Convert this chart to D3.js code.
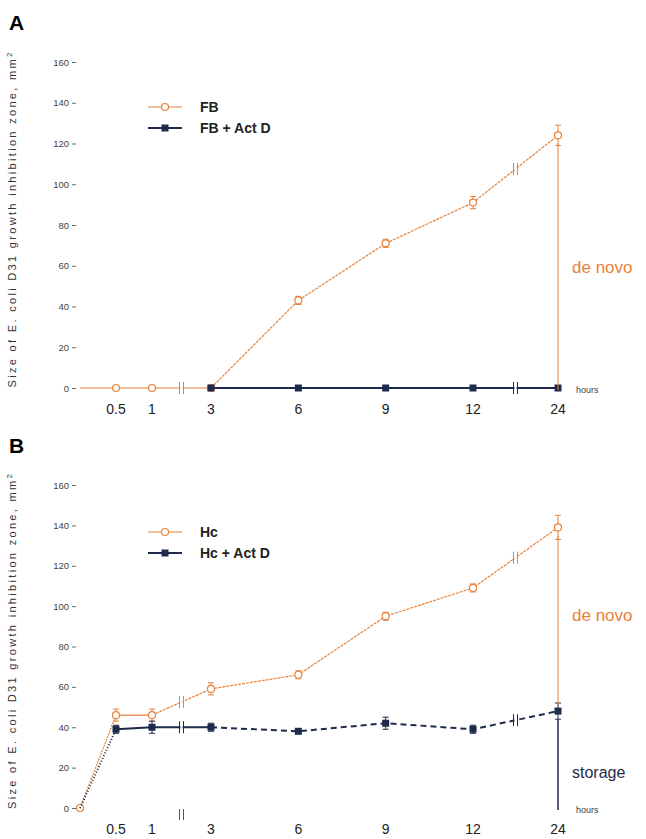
<!DOCTYPE html>
<html>
<head>
<meta charset="utf-8">
<script src="https://cdn.jsdelivr.net/npm/d3@7"></script>
<style>
  body { margin: 0; background: #fff; }
  svg { font-family: "Liberation Sans", Arial, sans-serif; }
</style>
</head>
<body>
<svg id="chart" width="646" height="839"></svg>
<script>
// hours sampled
const hours = [0, 0.5, 1, 3, 6, 9, 12, 24];
const xTickHours = [0.5, 1, 3, 6, 9, 12, 24];
const xTickLabels = ["0.5", "1", "3", "6", "9", "12", "24"];
const yTicks = [0, 20, 40, 60, 80, 100, 120, 140, 160];

// panel A
const fb = [0, 0, 0, 0, 43, 71, 91, 124];
const fbErr = [0, 0, 0, 0, 2, 2, 3, 5];
const fbActD = [null, null, null, 0, 0, 0, 0, 0];

// panel B
const hc = [0, 46, 46, 59, 66, 95, 109, 139];
const hcErr = [0, 3, 3, 3, 2, 2, 2, 6];
const hcActD = [0, 39, 40, 40, 38, 42, 39, 48];
const hcActDErr = [0, 2, 3, 2, 1, 3, 2, 4];

const orange = "#e8823a";
const navy = "#1f2b4c";

const svg = d3.select("#chart");

// broken time axis: 0-1 h, 3-12 h, 24 h
const x = d3.scaleLinear().domain([0, 1, 3, 12, 24]).range([80, 152, 211, 473, 558]);
const breaks = [2, 18];

function drawPanel(cfg) {
    const y = d3.scaleLinear().domain([0, 160]).range([cfg.bottom, cfg.top]);
    const g = svg.append("g");

    g.append("text")
        .attr("x", 9).attr("y", cfg.top - 32)
        .style("font-size", "21px").style("font-weight", "bold")
        .text(cfg.letter);

    // y axis
    const yAxis = g.append("g")
        .attr("transform", "translate(76,0)")
        .call(d3.axisLeft(y).tickValues(yTicks).tickSize(4).tickPadding(3));
    yAxis.select(".domain").remove();
    yAxis.selectAll("text").style("font-size", "9.5px").style("fill", "#444");
    yAxis.selectAll("line").attr("stroke", "#666");

    const title = g.append("text")
        .attr("transform", `translate(16,${(cfg.top + cfg.bottom) / 2 - 5}) rotate(-90)`)
        .attr("text-anchor", "middle")
        .attr("textLength", 335).attr("lengthAdjust", "spacing")
        .style("font-size", "11px").style("fill", "#333");
    title.append("tspan").text("Size of E. coli D31 growth inhibition zone, mm");
    title.append("tspan").attr("dy", -4).style("font-size", "8px").text("2");

    // x tick labels
    g.selectAll(".xl")
        .data(xTickHours)
        .enter().append("text")
        .attr("x", d => x(d))
        .attr("y", cfg.bottom + 26)
        .attr("text-anchor", "middle")
        .style("font-size", "14px").style("fill", "#222")
        .text((d, i) => xTickLabels[i]);

    g.append("text")
        .attr("x", 576).attr("y", cfg.bottom + 5)
        .style("font-size", "9px").style("fill", "#444")
        .text("hours");

    // series
    cfg.series.forEach(s => {
        const pts = hours.map((h, i) => ({ h, v: s.values[i], e: s.err ? s.err[i] : 0 }))
            .filter(d => d.v !== null);
        s.segments.forEach(seg => {
            const segPts = pts.filter(d => d.h >= seg[0] && d.h <= seg[1]);
            g.append("path")
                .datum(segPts)
                .attr("fill", "none")
                .attr("stroke", s.color)
                .attr("stroke-width", s.width)
                .attr("stroke-dasharray", seg[2])
                .attr("d", d3.line().x(d => x(d.h)).y(d => y(d.v)));
        });

        // break marks on the line
        breaks.forEach(b => {
            const i = pts.findIndex(d => d.h > b);
            if (i <= 0) return;
            const a = pts[i - 1], c = pts[i];
            const v = a.v + (c.v - a.v) * (x(b) - x(a.h)) / (x(c.h) - x(a.h));
            [-2, 2].forEach(off => {
                g.append("line")
                    .attr("x1", x(b) + off).attr("x2", x(b) + off)
                    .attr("y1", y(v) - 6).attr("y2", y(v) + 6)
                    .attr("stroke", s.color).attr("stroke-width", 1);
            });
            g.append("line")
                .attr("x1", x(b) - 1).attr("x2", x(b) + 1)
                .attr("y1", y(v)).attr("y2", y(v))
                .attr("stroke", "#fff").attr("stroke-width", 3);
        });

        // error bars
        pts.filter(d => d.e > 0).forEach(d => {
            g.append("path")
                .attr("d", `M${x(d.h) - 3},${y(d.v + d.e)}H${x(d.h) + 3}M${x(d.h)},${y(d.v + d.e)}V${y(d.v - d.e)}M${x(d.h) - 3},${y(d.v - d.e)}H${x(d.h) + 3}`)
                .attr("stroke", s.color).attr("stroke-width", 1).attr("fill", "none");
        });

        // markers
        pts.filter(d => !(s.skipZero && d.h === 0)).forEach(d => {
            if (s.marker === "circle") {
                g.append("circle")
                    .attr("cx", x(d.h)).attr("cy", y(d.v)).attr("r", 3.5)
                    .attr("fill", "#fff").attr("stroke", s.color).attr("stroke-width", 1.2);
            } else {
                g.append("rect")
                    .attr("x", x(d.h) - 3.5).attr("y", y(d.v) - 3.5)
                    .attr("width", 7).attr("height", 7)
                    .attr("fill", s.color);
            }
        });
    });

    // axis break marks in panel B
    if (cfg.axisBreaks) {
        breaks.slice(0, 1).forEach(b => {
            [-2, 2].forEach(off => {
                g.append("line")
                    .attr("x1", x(b) + off).attr("x2", x(b) + off)
                    .attr("y1", cfg.bottom + 1).attr("y2", cfg.bottom + 12)
                    .attr("stroke", "#555").attr("stroke-width", 1);
            });
        });
    }

    // brackets at 24 h
    cfg.brackets.forEach(br => {
        g.append("line")
            .attr("x1", x(24)).attr("x2", x(24))
            .attr("y1", y(br.from) + 8).attr("y2", y(br.to) - (br.to > 0 ? 6 : -2))
            .attr("stroke", br.color).attr("stroke-width", br.width);
        g.append("text")
            .attr("x", 572).attr("y", br.labelY)
            .style("font-size", br.size).style("fill", br.color)
            .text(br.label);
    });

    // legend
    cfg.series.forEach((s, i) => {
        const ly = cfg.legendY + i * 21;
        g.append("line")
            .attr("x1", 148).attr("x2", 182).attr("y1", ly).attr("y2", ly)
            .attr("stroke", s.color).attr("stroke-width", s.width);
        if (s.marker === "circle") {
            g.append("circle").attr("cx", 165).attr("cy", ly).attr("r", 3.5)
                .attr("fill", "#fff").attr("stroke", s.color).attr("stroke-width", 1.2);
        } else {
            g.append("rect").attr("x", 161.5).attr("y", ly - 3.5).attr("width", 7).attr("height", 7)
                .attr("fill", s.color);
        }
        g.append("text")
            .attr("x", 200).attr("y", ly + 5)
            .style("font-size", "14px").style("font-weight", "bold").style("fill", "#222")
            .text(s.name);
    });
}

drawPanel({
    letter: "A", top: 62, bottom: 388, legendY: 107, axisBreaks: false,
    series: [
        { name: "FB + Act D", values: fbActD, color: navy, width: 2, marker: "rect", segments: [[3, 24, null]] },
        { name: "FB", values: fb, err: fbErr, color: orange, width: 1.2, marker: "circle",
          segments: [[0, 3, null], [3, 24, "3,1"]], skipZero: true }
    ].reverse(),
    brackets: [{ from: 124, to: 0, color: orange, width: 1, label: "de novo", labelY: 273, size: "17px" }]
});

drawPanel({
    letter: "B", top: 485, bottom: 808, legendY: 532, axisBreaks: true,
    series: [
        { name: "Hc", values: hc, err: hcErr, color: orange, width: 1.2, marker: "circle",
          segments: [[0, 0.5, "2,1"], [0.5, 1, null], [1, 24, "3,1"]] },
        { name: "Hc + Act D", values: hcActD, err: hcActDErr, color: navy, width: 2, marker: "rect",
          segments: [[0, 0.5, "1,2"], [0.5, 3, null], [3, 24, "6,4"]], skipZero: true }
    ],
    brackets: [
        { from: 139, to: 48, color: orange, width: 1, label: "de novo", labelY: 621, size: "17px" },
        { from: 48, to: 0, color: navy, width: 1.5, label: "storage", labelY: 778, size: "16px" }
    ]
});
</script>
</body>
</html>
